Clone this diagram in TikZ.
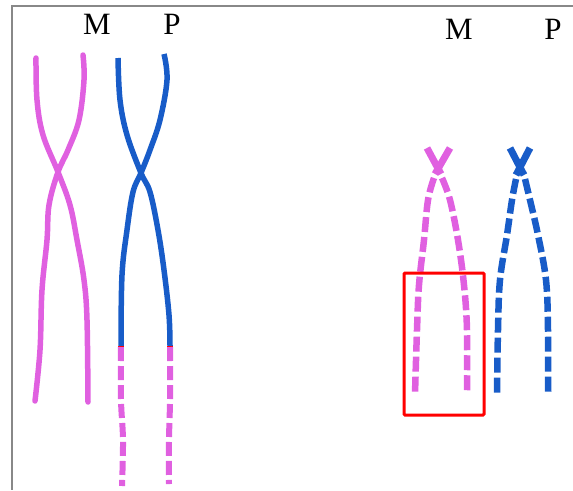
\documentclass[tikz,border=0pt]{standalone}
\usepackage{fontspec}
\setmainfont{Liberation Serif}
\definecolor{chromM}{RGB}{224,96,224}
\definecolor{chromP}{RGB}{24,92,200}
\definecolor{frame}{RGB}{136,136,136}
\tikzset{
  label/.style={font=\fontsize{31}{31}\selectfont, anchor=base, inner sep=0pt},
  strand/.style={line width=5.5pt, line cap=round, line join=round},
  dashstrand/.style={line width=6pt, dash pattern=on 14pt off 5pt},
  rdash/.style={line width=6.5pt, dash pattern=on 15pt off 5pt},
  xarm/.style={line width=7pt},
  highlight/.style={draw=red, line width=3pt, rounded corners=1pt}
}
\begin{document}
\begin{tikzpicture}[x=1pt,y=-1pt]
\useasboundingbox (0,0) rectangle (573,490);
% frame lines along the top and left
\draw[frame, line width=1.4pt] (573,6) -- (12,6) -- (12,490);

% labels
\node[label] (m1) at (97,34) {M};
\node[label] (p1) at (172,34) {P};
\node[label] (m2) at (459,39) {M};
\node[label] (p2) at (553,39) {P};

% ---- left pair: maternal chromatids, fully solid
\draw[strand, chromM] plot[smooth, tension=0.6] coordinates
  {(36,58) (37,100) (43,135) (58,172) (70,205) (77,240) (84,280) (87,320) (88,402)};
\draw[strand, chromM] plot[smooth, tension=0.6] coordinates
  {(83,55) (84,80) (79,120) (68,150) (58,172) (49,205) (47,240) (42,290) (40,350) (35,401)};

% ---- left pair: paternal chromatids, solid blue above, dashed maternal tail below
\draw[strand, chromP, line cap=butt] plot[smooth, tension=0.6] coordinates
  {(118,58) (120,100) (127,135) (141,173) (150,192) (158,230) (164,270) (169,315) (170,346)};
\draw[strand, chromP, line cap=butt] plot[smooth, tension=0.6] coordinates
  {(164,54) (167,80) (160,120) (150,150) (141,173) (133,192) (127,230) (122,275) (121,346)};
\draw[red, line width=5.5pt] (121,345.5) -- (121,347.5);
\draw[red, line width=5.5pt] (170,345.5) -- (170,347.5);
\draw[dashstrand, chromM] plot[smooth, tension=0.6] coordinates
  {(121,347) (121,400) (123,440) (122,486)};
\draw[dashstrand, chromM] plot[smooth, tension=0.6] coordinates
  {(170,347) (170,400) (169,440) (169,484)};

% ---- right side: maternal chromatid pair
\draw[xarm, chromM] (427,148) -- (441,174);
\draw[xarm, chromM] (450,148) -- (435,174);
\draw[rdash, chromM] plot[smooth, tension=0.6] coordinates
  {(434,178) (428,200) (424,240) (419,285) (417,330) (415,394)};
\draw[rdash, chromM] plot[smooth, tension=0.6] coordinates
  {(442,178) (450,200) (458,240) (464,285) (467,330) (467,394)};

% ---- right side: paternal chromatid pair
\draw[xarm, chromP] (510,148) -- (524,175);
\draw[xarm, chromP] (530,148) -- (516,175);
\draw[rdash, chromP] plot[smooth, tension=0.6] coordinates
  {(516,179) (512,200) (507,235) (500,280) (498,330) (497,394)};
\draw[rdash, chromP] plot[smooth, tension=0.6] coordinates
  {(525,179) (530,200) (538,235) (546,280) (548,330) (548,394)};

% highlighted region
\node[highlight, minimum width=80pt, minimum height=142pt, inner sep=0pt] (box) at (444,344) {};
\end{tikzpicture}
\end{document}
